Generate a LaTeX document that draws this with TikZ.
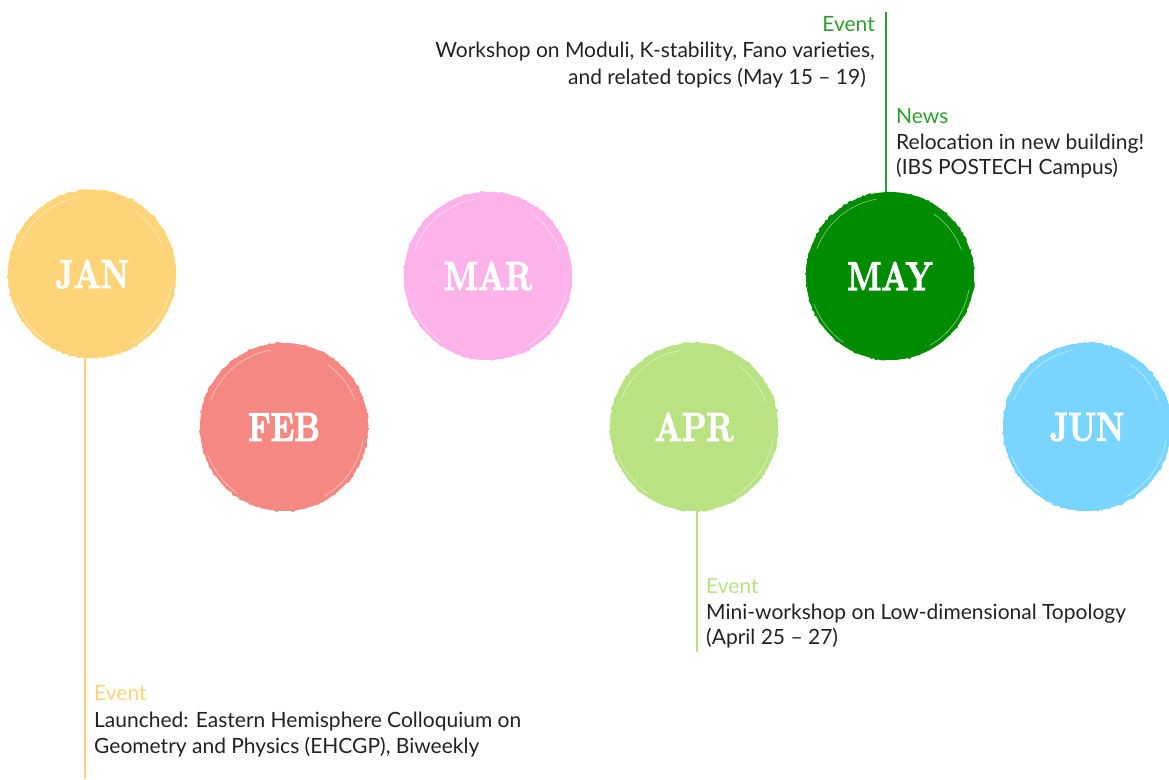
\documentclass[tikz,border=0pt]{standalone}
\usepackage{fontspec}
\setmainfont{Lato}
\newfontfamily\monthfont[BoldFeatures={FakeBold=3}]{Latin Modern Roman}
\usetikzlibrary{decorations.pathmorphing}

\definecolor{janc}{HTML}{FED478}
\definecolor{febc}{HTML}{F58882}
\definecolor{marc}{HTML}{FDB3EA}
\definecolor{aprc}{HTML}{B9E382}
\definecolor{mayc}{HTML}{008C00}
\definecolor{mayt}{HTML}{2E9E2E}
\definecolor{junc}{HTML}{79D5FE}
\definecolor{ink}{HTML}{222222}

\newcommand{\monthlabel}[1]{\scalebox{0.8}[1]{\monthfont\bfseries\fontsize{40pt}{40pt}\selectfont #1}}

\tikzset{
  month/.style={circle, minimum size=168pt, inner sep=0pt, fill=#1, text=white},
  rim/.style={fill=#1, decorate, decoration={random steps, segment length=2.5pt, amplitude=1.4pt}},
  scratch/.style={white, line width=0.6pt, opacity=0.55},
  stem/.style={draw=#1, line width=1.4pt},
  tag/.style={anchor=base west, inner sep=0pt, text=#1, font=\fontsize{21pt}{26pt}\selectfont},
  body/.style={anchor=base west, inner sep=0pt, text=ink, font=\fontsize{21pt}{26pt}\selectfont},
  tagr/.style={anchor=base east, inner sep=0pt, text=#1, font=\fontsize{21pt}{26pt}\selectfont},
  bodyr/.style={anchor=base east, inner sep=0pt, text=ink, font=\fontsize{21pt}{26pt}\selectfont},
}

% brushed disc: rough rim, filled body with the month name, faint strokes near the edge
\newcommand{\brushdisc}[4]{%
  \path[rim=#3] (#2) circle (84pt);
  \node[month=#3] (#1) at (#2) {\monthlabel{#4}};
  \draw[scratch] ([shift={(100:78pt)}]#1.center) arc (100:160:78pt);
  \draw[scratch] ([shift={(300:80pt)}]#1.center) arc (300:350:80pt);
  \draw[scratch] ([shift={(20:76pt)}]#1.center) arc (20:55:76pt);
  \draw[scratch] ([shift={(200:81pt)}]#1.center) arc (200:235:81pt);
}

\begin{document}
\begin{tikzpicture}[x=1pt, y=-1pt]
\pgfmathsetseed{7}
\useasboundingbox (0,0) rectangle (1169,779);

% stems behind the discs
\coordinate (janend) at (85,779);
\coordinate (aprend) at (697,652);
\coordinate (maytop) at (886,12);
\draw[stem=janc] (85,274) -- (janend);
\draw[stem=aprc] (697,427) -- (aprend);
\draw[stem=mayt] (maytop) -- (886,277);

% month discs
\brushdisc{jan}{92,274}{janc}{JAN}
\brushdisc{feb}{284,427}{febc}{FEB}
\brushdisc{mar}{488,276}{marc}{MAR}
\brushdisc{apr}{694,427}{aprc}{APR}
\brushdisc{may}{890,276}{mayc}{MAY}
\brushdisc{jun}{1087,427}{junc}{JUN}

% January
\node[tag=janc] (janev) at (94,700) {Event};
\node[body] (jan1) at (94,727) {Launched: Eastern Hemisphere Colloquium on};
\node[body] (jan2) at (94,753) {Geometry and Physics (EHCGP), Biweekly};

% April
\node[tag=aprc] (aprev) at (706,593) {Event};
\node[body] (apr1) at (706,619) {Mini-workshop on Low-dimensional Topology};
\node[body] (apr2) at (706,644) {(April 25 -- 27)};

% May, event
\node[tagr=mayt] (mayev) at (875,31) {Event};
\node[bodyr] (may1) at (875,57) {Workshop on Moduli, K-stability, Fano varieties,};
\node[bodyr] (may2) at (866,84) {and related topics (May 15 -- 19)};

% May, news
\node[tag=mayt] (maynw) at (896,123) {News};
\node[body] (may3) at (896,149) {Relocation in new building!};
\node[body] (may4) at (896,174) {(IBS POSTECH Campus)};
\end{tikzpicture}
\end{document}
